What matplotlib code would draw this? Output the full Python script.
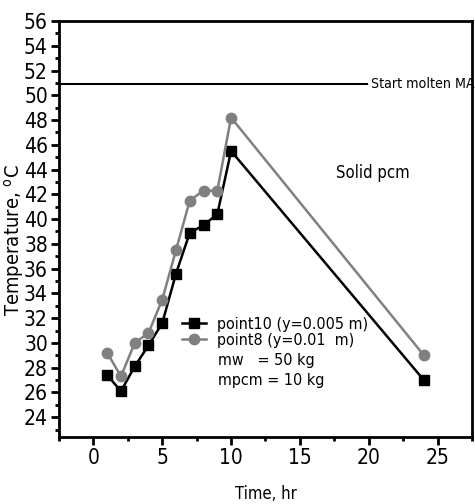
import matplotlib
matplotlib.use("Agg")
import matplotlib.pyplot as plt
from matplotlib.ticker import MultipleLocator

plt.rcParams['font.family'] = ['DejaVu Sans']
plt.rcParams['font.stretch'] = 'condensed'

time_hr = [1, 2, 3, 4, 5, 6, 7, 8, 9, 10, 24]
point10 = [27.4, 26.1, 28.1, 29.8, 31.6, 35.6, 38.9, 39.5, 40.4, 45.5, 27.0]
point8 = [29.2, 27.3, 30.0, 30.8, 33.5, 37.5, 41.5, 42.3, 42.3, 48.2, 29.0]
molten_start = 50.9

fig = plt.figure(figsize=(4.75, 5.04), dpi=100)
ax = fig.add_axes([59 / 475, 1 - 437 / 504, (472 - 59) / 475, (437 - 21) / 504])

ax.plot(time_hr, point10, color='black', lw=1.8, marker='s', ms=7,
        label='point10 (y=0.005 m)')
ax.plot(time_hr, point8, color='#808080', lw=1.8, marker='o', ms=7.5,
        label='point8 (y=0.01  m)')

ax.axhline(molten_start, xmin=0, xmax=(367 - 59) / (472 - 59), color='black', lw=1.5)
ax.text(20.15, molten_start, 'Start molten MA', fontsize=10.2, va='center', ha='left')
ax.text(17.6, 43.7, 'Solid pcm', fontsize=12, va='center', ha='left')

leg = ax.legend(loc='upper left', bbox_to_anchor=(0.298, 0.289), frameon=False,
                fontsize=11.5, handlelength=1.5, handletextpad=0.7,
                labelspacing=0.05, borderaxespad=0, borderpad=0)
ax.text(0.385, 0.185, 'mw   = 50 kg', transform=ax.transAxes, fontsize=11.5, va='center')
ax.text(0.385, 0.137, 'mpcm = 10 kg', transform=ax.transAxes, fontsize=11.5, va='center')

ax.set_xlim(-2.5, 27.5)
ax.set_ylim(22.4, 56)
ax.xaxis.set_major_locator(MultipleLocator(5))
ax.xaxis.set_minor_locator(MultipleLocator(2.5))
ax.yaxis.set_major_locator(MultipleLocator(2))
ax.yaxis.set_minor_locator(MultipleLocator(1))
ax.tick_params(which='major', direction='out', length=6, width=2, labelsize=15, pad=2)
ax.tick_params(which='minor', direction='out', length=3, width=2)
for s in ax.spines.values():
    s.set_linewidth(2)

ax.set_xlabel('Time, hr', fontsize=12, labelpad=12)
ax.set_ylabel('Temperature, $^\\mathregular{o}$C', fontsize=14.5)
ax.yaxis.set_label_coords(-0.08, 0.474)

fig.savefig('out.png', dpi=100)
